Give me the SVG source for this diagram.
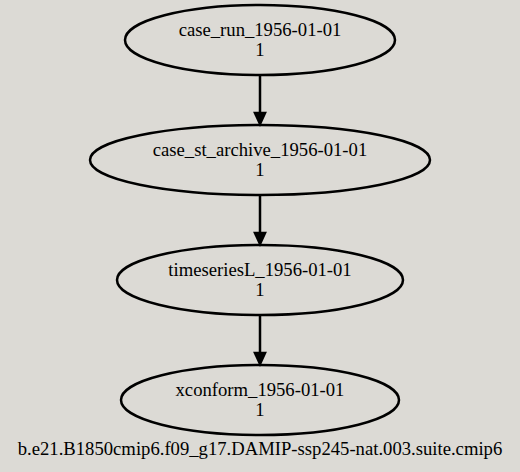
<svg xmlns="http://www.w3.org/2000/svg" width="520" height="472" viewBox="0 0 520 472">
<style>
.node ellipse{fill:none;stroke:#000;stroke-width:2.5}
text{font-family:"Liberation Serif","Times New Roman",serif;font-size:18.67px;fill:#000;text-anchor:middle}
.edge line{stroke:#000;stroke-width:2.5}
.edge polygon{fill:#000;stroke:#000;stroke-width:2.5}
</style>
<rect width="520" height="472" fill="#dcdad5"/>
<g id="edges" class="edge">
<line x1="260" y1="75" x2="260" y2="113"/>
<polygon points="255,113 265,113 260,124"/>
<line x1="260" y1="195" x2="260" y2="233"/>
<polygon points="255,233 265,233 260,244"/>
<line x1="260" y1="315" x2="260" y2="353"/>
<polygon points="255,353 265,353 260,364"/>
</g>
<g id="node1" class="node">
<ellipse cx="260" cy="40" rx="135" ry="35"/>
<text x="260" y="36">case_run_1956-01-01</text>
<text x="260" y="56">1</text>
</g>
<g id="node2" class="node">
<ellipse cx="260" cy="160" rx="170" ry="35"/>
<text x="260" y="156">case_st_archive_1956-01-01</text>
<text x="260" y="176">1</text>
</g>
<g id="node3" class="node">
<ellipse cx="260" cy="280" rx="143" ry="35"/>
<text x="260" y="276">timeseriesL_1956-01-01</text>
<text x="260" y="296">1</text>
</g>
<g id="node4" class="node">
<ellipse cx="260" cy="400" rx="139" ry="35"/>
<text x="260" y="396">xconform_1956-01-01</text>
<text x="260" y="416">1</text>
</g>
<text id="title" x="260" y="455">b.e21.B1850cmip6.f09_g17.DAMIP-ssp245-nat.003.suite.cmip6</text>
</svg>
